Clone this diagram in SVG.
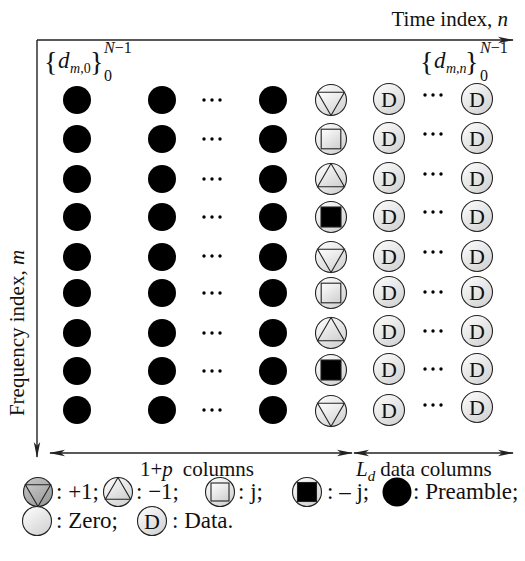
<svg xmlns="http://www.w3.org/2000/svg" xmlns:xlink="http://www.w3.org/1999/xlink" width="525" height="561" viewBox="0 0 525 561">
<style>
text{font-family:"Liberation Serif","Times New Roman",serif;fill:#111}
.ax{stroke:#222;stroke-width:1.4;fill:none}
.it{font-style:italic}
.lab{font-size:21px}
.leg{font-size:23px}
.dd{font-size:22px;text-anchor:middle}
.ring{stroke:#222;stroke-width:1.1}
.blk{fill:#000}
.dot{fill:#000}
.br{font-size:28px}
.sup{font-size:16px}
</style>
<defs>
<linearGradient id="gl" x1="0" y1="0" x2="0.7" y2="1">
<stop offset="0" stop-color="#ffffff"/>
<stop offset="1" stop-color="#d4d4d4"/>
</linearGradient>
<linearGradient id="gd" x1="0" y1="0" x2="0.7" y2="1">
<stop offset="0" stop-color="#c8c8c8"/>
<stop offset="1" stop-color="#9a9a9a"/>
</linearGradient>
<marker id="ah" markerUnits="userSpaceOnUse" markerWidth="16" markerHeight="8" refX="15" refY="4" orient="auto-start-reverse" viewBox="0 0 16 8">
<path d="M0,0.8 L16,4 L0,7.2 L4,4 Z" fill="#222"/>
</marker>
<g id="preamble"><circle r="14" class="blk"/></g>
<g id="pDown"><circle r="15.5" fill="url(#gl)" class="ring"/><path d="M-13.4,-7.7 L13.4,-7.7 L0,15.5 Z" fill="url(#gl)" class="ring"/></g>
<g id="pUp"><circle r="15.5" fill="url(#gl)" class="ring"/><path d="M-13.4,7.7 L13.4,7.7 L0,-15.5 Z" fill="url(#gl)" class="ring"/></g>
<g id="pSq"><circle r="15.5" fill="url(#gl)" class="ring"/><rect x="-9.8" y="-9.8" width="19.6" height="19.6" fill="url(#gl)" class="ring"/></g>
<g id="pNeg"><circle r="15.5" fill="url(#gl)" class="ring"/><rect x="-10" y="-10" width="20" height="20" fill="#000" class="ring"/></g>
<g id="data"><circle r="15.5" fill="url(#gl)" class="ring"/><text y="7.6" class="dd">D</text></g>
<g id="dots3"><circle cx="-8" r="1.7" class="dot"/><circle r="1.7" class="dot"/><circle cx="8" r="1.7" class="dot"/></g>
</defs>

<rect width="525" height="561" fill="#fff"/>

<g id="connectors">
<line id="time-axis" x1="37" y1="40" x2="513" y2="40" class="ax" marker-end="url(#ah)"/>
<line id="freq-axis" x1="37" y1="40" x2="37" y2="457" class="ax" marker-end="url(#ah)"/>
<line id="span-pilot" x1="50" y1="453" x2="352" y2="453" class="ax" marker-start="url(#ah)" marker-end="url(#ah)"/>
<line id="span-data" x1="354" y1="453" x2="513" y2="453" class="ax" marker-start="url(#ah)" marker-end="url(#ah)"/>
</g>

<g id="axis-labels">
<text x="508" y="26" text-anchor="end" class="lab">Time index, <tspan class="it">n</tspan></text>
<text transform="translate(24,333) rotate(-90)" text-anchor="middle" class="lab">Frequency index, <tspan class="it">m</tspan></text>
</g>

<g id="label-d0">
<text x="44" y="71" class="br">{</text>
<text x="58" y="68" class="it" style="font-size:23px">d</text>
<text x="70" y="73" class="it" style="font-size:14px">m<tspan style="font-style:normal">,0</tspan></text>
<text x="90" y="71" class="br">}</text>
<text x="104" y="53" class="it sup">N<tspan style="font-style:normal">−1</tspan></text>
<text x="104" y="81" class="sup">0</text>
</g>
<g id="label-dn">
<text x="420" y="71" class="br">{</text>
<text x="434" y="68" class="it" style="font-size:23px">d</text>
<text x="446" y="73" class="it" style="font-size:14px">m,n</text>
<text x="465" y="71" class="br">}</text>
<text x="480" y="53" class="it sup">N<tspan style="font-style:normal">−1</tspan></text>
<text x="480" y="81" class="sup">0</text>
</g>

<g id="grid">
<g id="row-0"><use id="n-0-0" href="#preamble" x="77" y="100"/><use id="n-0-1" href="#preamble" x="162" y="100"/><use href="#dots3" x="212" y="100"/><use id="n-0-p" href="#preamble" x="273" y="100"/><use id="n-0-pilot" href="#pDown" x="331" y="100"/><use id="n-0-d1" href="#data" x="389" y="99"/><use href="#dots3" x="433" y="95"/><use id="n-0-dn" href="#data" x="477" y="99"/></g>
<g id="row-1"><use id="n-1-0" href="#preamble" x="77" y="139"/><use id="n-1-1" href="#preamble" x="162" y="139"/><use href="#dots3" x="212" y="139"/><use id="n-1-p" href="#preamble" x="273" y="139"/><use id="n-1-pilot" href="#pSq" x="331" y="139"/><use id="n-1-d1" href="#data" x="389" y="138"/><use href="#dots3" x="433" y="134"/><use id="n-1-dn" href="#data" x="477" y="138"/></g>
<g id="row-2"><use id="n-2-0" href="#preamble" x="77" y="179"/><use id="n-2-1" href="#preamble" x="162" y="179"/><use href="#dots3" x="212" y="179"/><use id="n-2-p" href="#preamble" x="273" y="179"/><use id="n-2-pilot" href="#pUp" x="331" y="179"/><use id="n-2-d1" href="#data" x="389" y="178"/><use href="#dots3" x="433" y="174"/><use id="n-2-dn" href="#data" x="477" y="178"/></g>
<g id="row-3"><use id="n-3-0" href="#preamble" x="77" y="217"/><use id="n-3-1" href="#preamble" x="162" y="217"/><use href="#dots3" x="212" y="217"/><use id="n-3-p" href="#preamble" x="273" y="217"/><use id="n-3-pilot" href="#pNeg" x="331" y="217"/><use id="n-3-d1" href="#data" x="389" y="216"/><use href="#dots3" x="433" y="212"/><use id="n-3-dn" href="#data" x="477" y="216"/></g>
<g id="row-4"><use id="n-4-0" href="#preamble" x="77" y="257"/><use id="n-4-1" href="#preamble" x="162" y="257"/><use href="#dots3" x="212" y="256"/><use id="n-4-p" href="#preamble" x="273" y="257"/><use id="n-4-pilot" href="#pDown" x="331" y="257"/><use id="n-4-d1" href="#data" x="389" y="256"/><use href="#dots3" x="433" y="252"/><use id="n-4-dn" href="#data" x="477" y="256"/></g>
<g id="row-5"><use id="n-5-0" href="#preamble" x="77" y="293"/><use id="n-5-1" href="#preamble" x="162" y="293"/><use href="#dots3" x="212" y="293"/><use id="n-5-p" href="#preamble" x="273" y="293"/><use id="n-5-pilot" href="#pSq" x="331" y="293"/><use id="n-5-d1" href="#data" x="389" y="292"/><use href="#dots3" x="433" y="292"/><use id="n-5-dn" href="#data" x="477" y="292"/></g>
<g id="row-6"><use id="n-6-0" href="#preamble" x="77" y="333"/><use id="n-6-1" href="#preamble" x="162" y="333"/><use href="#dots3" x="212" y="333"/><use id="n-6-p" href="#preamble" x="273" y="333"/><use id="n-6-pilot" href="#pUp" x="331" y="333"/><use id="n-6-d1" href="#data" x="389" y="331"/><use href="#dots3" x="433" y="331"/><use id="n-6-dn" href="#data" x="477" y="331"/></g>
<g id="row-7"><use id="n-7-0" href="#preamble" x="77" y="371"/><use id="n-7-1" href="#preamble" x="162" y="371"/><use href="#dots3" x="212" y="371"/><use id="n-7-p" href="#preamble" x="273" y="371"/><use id="n-7-pilot" href="#pNeg" x="331" y="370"/><use id="n-7-d1" href="#data" x="389" y="369"/><use href="#dots3" x="433" y="369"/><use id="n-7-dn" href="#data" x="477" y="369"/></g>
<g id="row-8"><use id="n-8-0" href="#preamble" x="77" y="410"/><use id="n-8-1" href="#preamble" x="162" y="410"/><use href="#dots3" x="212" y="410"/><use id="n-8-p" href="#preamble" x="273" y="410"/><use id="n-8-pilot" href="#pDown" x="331" y="411"/><use id="n-8-d1" href="#data" x="389" y="410"/><use href="#dots3" x="433" y="405"/><use id="n-8-dn" href="#data" x="477" y="407"/></g>
</g>

<g id="span-labels">
<text x="140" y="476" class="lab">1+<tspan class="it">p</tspan><tspan dx="10">columns</tspan></text>
<text x="356" y="476" class="lab"><tspan class="it">L</tspan><tspan class="it" dy="5" style="font-size:15px">d</tspan><tspan dy="-5" dx="5">data columns</tspan></text>
</g>

<g id="legend">
<g id="leg-plus1"><circle cx="38" cy="492" r="14.5" fill="url(#gd)" class="ring"/><path d="M25.4,484.7 L50.6,484.7 L38,506.5 Z" fill="url(#gd)" class="ring"/><text x="56" y="499" class="leg">: +1;</text></g>
<g id="leg-minus1"><circle cx="118" cy="492" r="14.5" fill="url(#gl)" class="ring"/><path d="M105.4,499.3 L130.6,499.3 L118,477.5 Z" fill="url(#gl)" class="ring"/><text x="136" y="499" class="leg">: −1;</text></g>
<g id="leg-j"><circle cx="220" cy="492" r="14.5" fill="url(#gl)" class="ring"/><rect x="211" y="483" width="18" height="18" fill="url(#gl)" class="ring"/><text x="238" y="499" class="leg">: j;</text></g>
<g id="leg-minusj"><circle cx="307" cy="492" r="14.5" fill="url(#gl)" class="ring"/><rect x="297.5" y="482.5" width="19" height="19" fill="#000" class="ring"/><text x="327" y="499" class="leg">: – j;</text></g>
<g id="leg-preamble"><circle cx="397" cy="492" r="14.5" fill="#000"/><text x="413" y="499" class="leg">: Preamble;</text></g>
<g id="leg-zero"><circle cx="37" cy="521" r="14.5" fill="url(#gl)" class="ring"/><text x="56" y="528" class="leg">: Zero;</text></g>
<g id="leg-data"><circle cx="152" cy="521" r="14.5" fill="url(#gl)" class="ring"/><text x="152" y="528.5" class="dd">D</text><text x="172" y="528" class="leg">: Data.</text></g>
</g>
</svg>
